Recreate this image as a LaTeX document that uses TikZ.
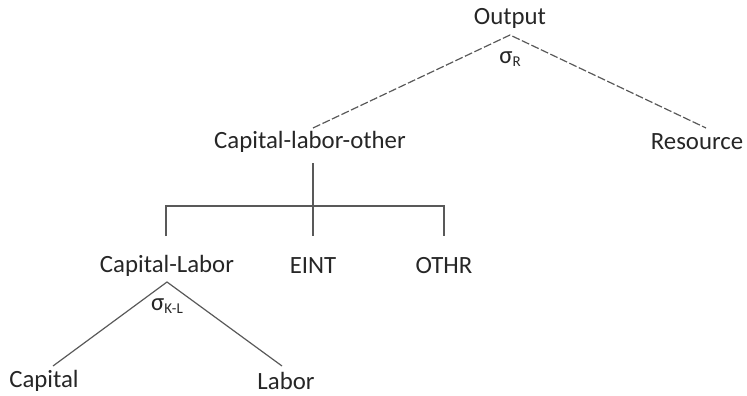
\documentclass[tikz,border=0pt]{standalone}
\usepackage{fontspec}
\setmainfont{Carlito}
\begin{document}
\begin{tikzpicture}[x=1pt,y=-1pt,
  lbl/.style={inner sep=0pt, font=\fontsize{24.8}{28}\selectfont, text=black!85},
  sig/.style={inner sep=0pt, font=\fontsize{24.8}{28}\selectfont, text=black!85},
  dline/.style={draw=black!65, line width=1.2pt, dash pattern=on 8pt off 2.5pt},
  sline/.style={draw=black!65, line width=1.2pt}]
\useasboundingbox (0,0) rectangle (747,396);
\node[lbl] (out) at (510,18) {Output};
\node[lbl] (clo) at (310,142) {Capital-labor-other};
\node[lbl] (res) at (697,142) {Resource};
\node[lbl] (cl) at (167,266) {Capital-Labor};
\node[lbl] (eint) at (313,266) {EINT};
\node[lbl] (othr) at (444,266) {OTHR};
\node[lbl] (cap) at (44,381) {Capital};
\node[lbl] (lab) at (286,381) {Labor};
\node[sig] (sr) at (510,59) {σ\raisebox{-0.3ex}{\fontsize{15}{17}\selectfont R}};
\node[sig] (skl) at (167,306) {σ\raisebox{-0.3ex}{\fontsize{15}{17}\selectfont K-L}};
\coordinate (topapex) at (510,35);
\coordinate (cloT) at (313,128);
\coordinate (resT) at (706,128);
\coordinate (cloB) at (313,163);
\coordinate (bar) at (313,206);
\coordinate (barL) at (166,206);
\coordinate (barR) at (444,206);
\coordinate (clT) at (166,236);
\coordinate (eintT) at (313,236);
\coordinate (othrT) at (444,236);
\coordinate (clapex) at (167,282);
\coordinate (capT) at (53,366);
\coordinate (labT) at (282,366);
\draw[dline] (cloT) -- (topapex) -- (resT);
\draw[sline] (cloB) -- (eintT);
\draw[sline] (clT) -- (barL) -- (barR) -- (othrT);
\draw[sline] (capT) -- (clapex) -- (labT);
\end{tikzpicture}
\end{document}
